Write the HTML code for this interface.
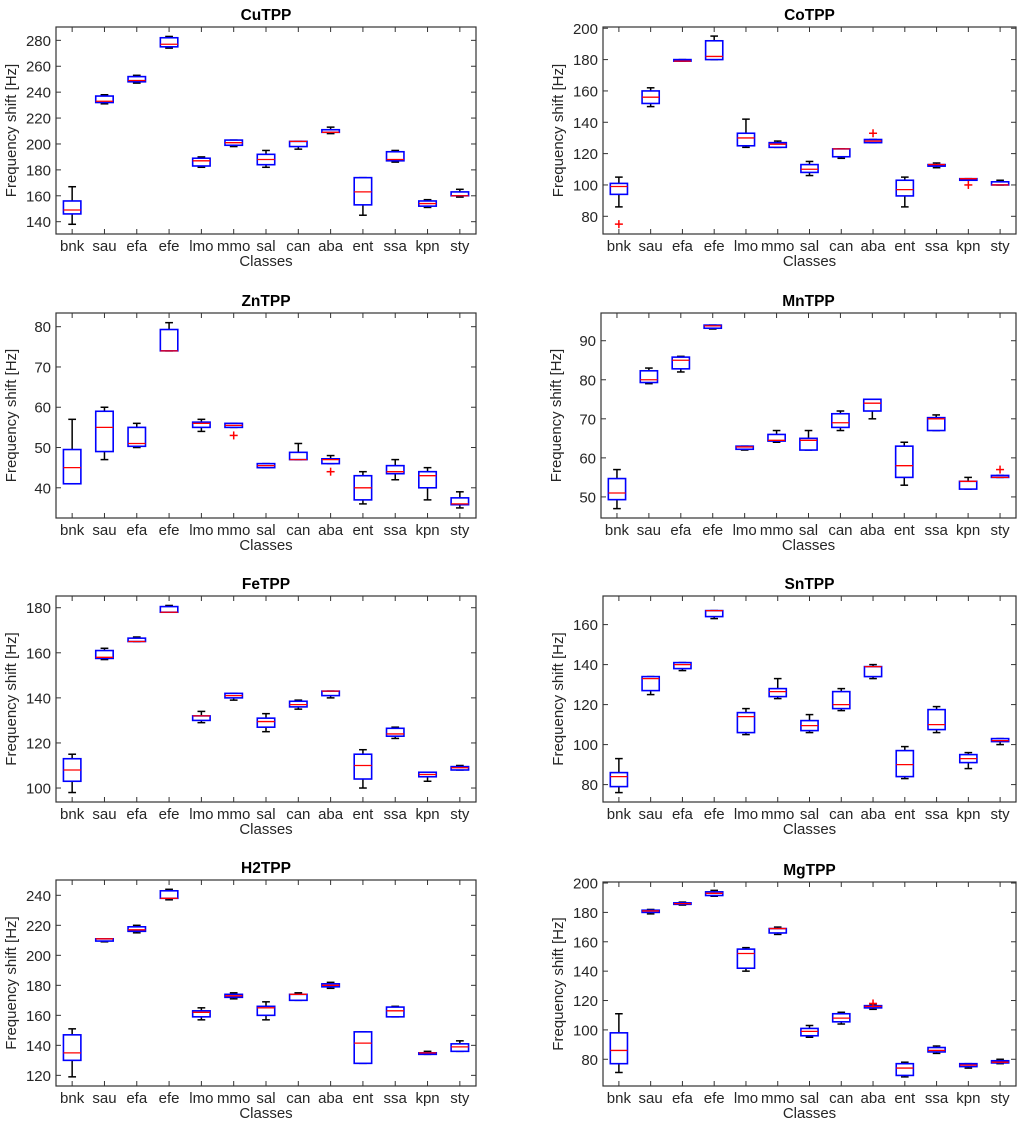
<!DOCTYPE html>
<html><head><meta charset="utf-8"><style>
html,body{margin:0;padding:0;background:#fff;}
svg{display:block;font-family:"Liberation Sans",Arial,sans-serif;}
</style></head><body>
<svg id="fig" width="1024" height="1125" viewBox="0 0 1024 1125"></svg>
<script>
const classes = ["bnk","sau","efa","efe","lmo","mmo","sal","can","aba","ent","ssa","kpn","sty"];
// each row: [whiskerLow, q1, median, q3, whiskerHigh]
const cuData = [[138,146,149,156,167],[231,232,233,237,238],[247,248,249,252,253],[274,275,277,282,283],[182,183,187,189,190],[198,199,201,203,203],[182,184,188,192,195],[196,198,202,202,202],[208,209,209,211,213],[145,153,163,174,174],[186,187,188,194,195],[151,152,154,156,157],[159,160,160,163,165]];
const cuOut = [];
const coData = [[86,94,99,101,105],[150,152,156,160,162],[179,179,179,180,180],[180,180,182,192,195],[124,125,130,133,142],[124,124,126,127,128],[106,108,110,113,115],[117,118,123,123,123],[127,127,128,129,129],[86,93,97,103,105],[111,112,113,113,114],[103,103,104,104,104],[100,100,100,102,103]];
const coOut = [[0,75],[8,133],[11,100]];
const znData = [[41,41,45,49.5,57],[47,49,55,59,60],[50,50.3,51,55,56],[74,74,74,79.3,81],[54,55,56,56.3,57],[55,55,55.5,56,56],[45,45,45.5,46,46],[47,47,47,48.8,51],[46,46,47,47.2,48],[36,37,40,43,44],[42,43.5,44,45.5,47],[37,40,43,44,45],[35,35.8,36,37.5,39]];
const znOut = [[5,53],[8,44]];
const mnData = [[47,49.3,51,54.7,57],[79,79.3,80,82.3,83],[82,82.8,85,85.8,86],[93,93.2,93.8,94,94],[62,62.2,62.8,63,63],[64,64.3,64.5,66,67],[62,62,64.5,65,67],[67,67.8,69,71.3,72],[70,72,74,75,75],[53,55,58,63,64],[67,67,70,70.3,71],[52,52,54,54,55],[55,55,55,55.5,55.5]];
const mnOut = [[12,57]];
const feData = [[98,103,108,113,115],[157,157.5,158,161,162],[165,165,165,166.5,167],[178,178,178,180.5,181],[129,130,132,132,134],[139,140,141,142,142],[125,127,129.5,131,133],[135,136,137,138.5,139],[140,141,143,143,143],[100,104,110,115,117],[122,123,124,126.5,127],[103,105,106,107,107],[108,108,109,109.5,110]];
const feOut = [];
const snData = [[76,79,84,86,93],[125,127,133,134,134],[137,138,140,141,141],[163,164,167,167,167],[105,106,114,116,118],[123,124,126.5,128,133],[106,107,109.5,112,115],[117,118,120,126.5,128],[133,134,139,139,140],[83,84,90,97,99],[106,107.5,110,117.5,119],[88,91,93,95,96],[100,101.5,102,103,103]];
const snOut = [];
const h2Data = [[119,130,135,147,151],[209,209.5,211,211,211],[215,216,217,219,220],[237,238,238,243,244],[157,159,162,163,165],[171,172,173,174,175],[157,160,165,166,169],[170,170,174,174,175],[178,179,180,181,182],[128,128,141.5,149,149],[159,159,163,165.5,166],[134,134,135,135,136],[136,136,139,141,143]];
const h2Out = [];
const mgData = [[71,77,86,98,111],[179,180,181,181.5,182],[185,185.5,186,186.5,187],[191,191.5,193,194,195],[140,142,152,155,156],[165,166,169,169,170],[95,96,99,101,103],[104,105.5,108,111,112],[114,115,116,116.5,117],[68,69,74,77,78],[84,85,86,88,89],[74,75,76,77,77],[77,77.5,78,79,80]];
const mgOut = [[8,118]];
const cuTicks = [140,160,180,200,220,240,260,280];
const coTicks = [80,100,120,140,160,180,200];
const znTicks = [40,50,60,70,80];
const mnTicks = [50,60,70,80,90];
const feTicks = [100,120,140,160,180];
const snTicks = [80,100,120,140,160];
const h2Ticks = [120,140,160,180,200,220,240];
const mgTicks = [80,100,120,140,160,180,200];

const NS = "http://www.w3.org/2000/svg";
const svg = document.getElementById("fig");
function mk(tag, attrs, parent){
  const e = document.createElementNS(NS, tag);
  for (const k in attrs) e.setAttribute(k, attrs[k]);
  (parent||svg).appendChild(e);
  return e;
}
const panels = [
  {t:"CuTPP", key:"cu", L:56, R:476, T:27, B:234, y0:130.5, y1:290.3, d:cuData, o:cuOut, k:cuTicks},
  {t:"CoTPP", key:"co", L:603, R:1016, T:27, B:234, y0:68.7, y1:200.8, d:coData, o:coOut, k:coTicks},
  {t:"ZnTPP", key:"zn", L:56, R:476, T:313, B:518, y0:32.5, y1:83.4, d:znData, o:znOut, k:znTicks},
  {t:"MnTPP", key:"mn", L:601, R:1016, T:313, B:518, y0:44.6, y1:97.1, d:mnData, o:mnOut, k:mnTicks},
  {t:"FeTPP", key:"fe", L:56, R:476, T:596, B:802, y0:93.8, y1:185.2, d:feData, o:feOut, k:feTicks},
  {t:"SnTPP", key:"sn", L:603, R:1016, T:596, B:802, y0:71.3, y1:174.3, d:snData, o:snOut, k:snTicks},
  {t:"H2TPP", key:"h2", L:56, R:476, T:880, B:1086, y0:112.9, y1:250.2, d:h2Data, o:h2Out, k:h2Ticks},
  {t:"MgTPP", key:"mg", L:603, R:1016, T:882, B:1086, y0:61.8, y1:200.7, d:mgData, o:mgOut, k:mgTicks}
];
panels.forEach(p => {
  const g = mk("g", {});
  
  
  const n = classes.length;
  const sp = (p.R - p.L) / n;
  const xs = i => p.L + sp * (i + 0.5);
  const ys = v => p.B - (v - p.y0) / (p.y1 - p.y0) * (p.B - p.T);
  const hw = sp * 0.27, cw = sp * 0.12;
  const ti = mk("text", {x:(p.L+p.R)/2, y:p.T-7, "text-anchor":"middle", "font-size":"15.5", "font-weight":"bold", fill:"#000"}, g);
  ti.textContent = p.t;
  
  
  p.k.forEach(v => {
    const y = ys(v);
    mk("line", {x1:p.L, x2:p.L+5, y1:y, y2:y, stroke:"#333", "stroke-width":1}, g);
    mk("line", {x1:p.R, x2:p.R-5, y1:y, y2:y, stroke:"#333", "stroke-width":1}, g);
    const tl = mk("text", {x:p.L-5, y:y+5.5, "text-anchor":"end", "font-size":"15", fill:"#262626"}, g);
    tl.textContent = v;
    
    
  });
  classes.forEach((c, i) => {
    const x = xs(i);
    mk("line", {x1:x, x2:x, y1:p.B, y2:p.B-5, stroke:"#333", "stroke-width":1}, g);
    mk("line", {x1:x, x2:x, y1:p.T, y2:p.T+5, stroke:"#333", "stroke-width":1}, g);
    const xl = mk("text", {x:x, y:p.B+17, "text-anchor":"middle", "font-size":"15", fill:"#262626"}, g);
    xl.textContent = c;
    
    
  });
  const xt = mk("text", {x:(p.L+p.R)/2, y:p.B+32, "text-anchor":"middle", "font-size":"15", fill:"#262626"}, g);
  xt.textContent = "Classes";
  
  
  const cy = (p.T+p.B)/2, lx = p.L - 40;
  const yt = mk("text", {x:lx, y:cy, "text-anchor":"middle", "font-size":"15", fill:"#262626", transform:"rotate(-90 "+lx+" "+cy+")"}, g);
  yt.textContent = "Frequency shift [Hz]";
  
  
  p.d.forEach((b, i) => {
    const x = xs(i);
    const bg = mk("g", {}, g);
    
    
    const [wl, q1, md, q3, wh] = b;
    mk("line", {x1:x, x2:x, y1:ys(wh), y2:ys(q3), stroke:"#000", "stroke-width":1.5}, bg);
    mk("line", {x1:x, x2:x, y1:ys(q1), y2:ys(wl), stroke:"#000", "stroke-width":1.5}, bg);
    mk("line", {x1:x-cw, x2:x+cw, y1:ys(wh), y2:ys(wh), stroke:"#000", "stroke-width":1.5}, bg);
    mk("line", {x1:x-cw, x2:x+cw, y1:ys(wl), y2:ys(wl), stroke:"#000", "stroke-width":1.5}, bg);
    mk("rect", {x:x-hw, y:ys(q3), width:2*hw, height:Math.max(ys(q1)-ys(q3),0.5), fill:"#fff", stroke:"#0000ff", "stroke-width":1.6}, bg);
    mk("line", {x1:x-hw, x2:x+hw, y1:ys(md), y2:ys(md), stroke:"#ff0000", "stroke-width":1.3}, bg);
  });
  p.o.forEach(o => {
    const x = xs(o[0]), y = ys(o[1]);
    const og = mk("g", {stroke:"#ff0000", "stroke-width":1.5}, g);
    
    
    mk("line", {x1:x-4, x2:x+4, y1:y, y2:y}, og);
    mk("line", {x1:x, x2:x, y1:y-4, y2:y+4}, og);
  });
  const fr = mk("rect", {x:p.L, y:p.T, width:p.R-p.L, height:p.B-p.T, fill:"none", stroke:"#333", "stroke-width":1.2}, g);
  
  
});
</script>
</body></html>
